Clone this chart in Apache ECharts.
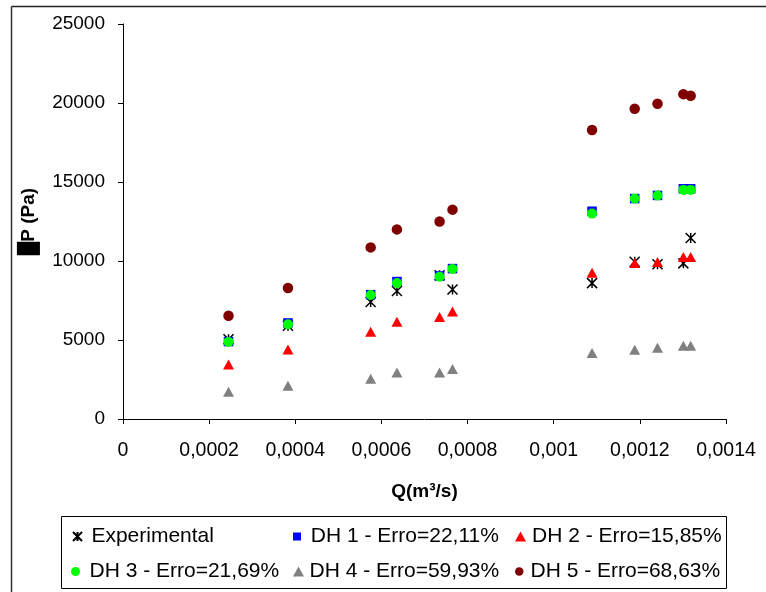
<!DOCTYPE html>
<html>
<head>
<meta charset="utf-8">
<script src="https://cdn.jsdelivr.net/npm/echarts@6/dist/echarts.min.js"></script>
<style>
html,body{margin:0;padding:0;background:#fff;}
#chart{width:766px;height:592px;}
</style>
</head>
<body>
<div id="chart"></div>
<script>
// ---- data ----
var qValues = [0.000245, 0.000383, 0.000575, 0.000636, 0.000735, 0.000765, 0.001089, 0.001188, 0.001241, 0.001301, 0.001318];
var experimental = [5050, 5900, 7400, 8100, 9100, 8200, 8600, 9950, 9800, 9850, 11450];
var dh1 = [4900, 6080, 7870, 8700, 9050, 9520, 13150, 13950, 14150, 14570, 14570];
var dh2 = [3450, 4400, 5520, 6150, 6450, 6800, 9250, 9870, 9930, 10250, 10250];
var dh3 = [4880, 6000, 7850, 8600, 9000, 9500, 13000, 13950, 14150, 14500, 14500];
var dh4 = [1730, 2110, 2550, 2950, 2950, 3160, 4180, 4390, 4510, 4640, 4640];
var dh5 = [6540, 8290, 10860, 12000, 12500, 13250, 18290, 19640, 19950, 20560, 20460];
var seriesNames = ['Experimental', 'DH 1 - Erro=22,11%', 'DH 2 - Erro=15,85%', 'DH 3 - Erro=21,69%', 'DH 4 - Erro=59,93%', 'DH 5 - Erro=68,63%'];
var xAxisName = 'Q(m³/s)';
var yAxisName = '█P (Pa)';

function pairs(ys){ return ys.map(function(y,i){ return [qValues[i], y]; }); }

var FONT = '"Liberation Sans", Arial, sans-serif';
var asterisk = 'path://M0,0 L10,10 M10,0 L0,10 M5,0 L5,10';

var styles = [
  {symbol: asterisk, size: 10, itemStyle: {color: 'rgba(0,0,0,0)', borderColor: '#000', borderWidth: 1.5, opacity: 1}},
  {symbol: 'rect', size: 9.5, itemStyle: {color: '#0000FF', opacity: 1}},
  {symbol: 'triangle', size: [11, 10], itemStyle: {color: '#FF0000', opacity: 1}},
  {symbol: 'circle', size: 10, itemStyle: {color: '#00FF00', opacity: 1}},
  {symbol: 'triangle', size: [11, 10], itemStyle: {color: '#808080', opacity: 1}},
  {symbol: 'circle', size: 10.5, itemStyle: {color: '#800000', opacity: 1}}
];
var datasets = [experimental, dh1, dh2, dh3, dh4, dh5];

var series = datasets.map(function(d, i){
  return {
    name: seriesNames[i],
    type: 'scatter',
    data: pairs(d),
    symbol: styles[i].symbol,
    symbolSize: styles[i].size,
    itemStyle: styles[i].itemStyle,
    emphasis: {disabled: true},
    z: 2 + i
  };
});

// legend layout (icon box and text offset)
var legendPos = [
  {left: 72, top: 526, w: 9, h: 10, pad: 4.4},
  {left: 293, top: 526, w: 8, h: 8, pad: 4.8},
  {left: 515, top: 526, w: 11, h: 10, pad: 1},
  {left: 71, top: 561, w: 9, h: 9, pad: 4.5},
  {left: 293, top: 561, w: 11, h: 10, pad: 0.5},
  {left: 515, top: 561, w: 8.5, h: 8.5, pad: 2}
];
var legends = seriesNames.map(function(n, i){
  var p = legendPos[i];
  return {
    data: [n],
    left: p.left,
    top: p.top,
    padding: 0,
    itemWidth: p.w,
    itemHeight: p.h,
    itemGap: 0,
    selectedMode: false,
    textStyle: {fontFamily: FONT, fontSize: 21, color: '#000', padding: [0,0,0,p.pad]}
  };
});

var chart = echarts.init(document.getElementById('chart'), null, {renderer: 'canvas'});
chart.setOption({
  animation: false,
  backgroundColor: '#fff',
  grid: {left: 123, right: 40, top: 24, bottom: 173, containLabel: false},
  xAxis: {
    type: 'value', min: 0, max: 0.0014, interval: 0.0002,
    name: xAxisName, nameLocation: 'middle', nameGap: 63,
    nameTextStyle: {fontFamily: FONT, fontSize: 19, fontWeight: 'bold', color: '#000'},
    axisLine: {show: true, lineStyle: {color: '#000', width: 1}},
    axisTick: {show: true, inside: false, length: 5, lineStyle: {color: '#000'}},
    splitLine: {show: false},
    axisLabel: {
      fontFamily: FONT, fontSize: 19.5, color: '#000', margin: 22,
      formatter: function(v){ return String(Number(v.toPrecision(6))).replace('.', ','); }
    }
  },
  yAxis: {
    type: 'value', min: 0, max: 25000, interval: 5000,
    name: yAxisName, nameLocation: 'middle', nameGap: 85, nameRotate: 90,
    nameTextStyle: {fontFamily: FONT, fontSize: 19, fontWeight: 'bold', color: '#000'},
    axisLine: {show: true, lineStyle: {color: '#000', width: 1}},
    axisTick: {show: true, inside: false, length: 5, lineStyle: {color: '#000'}},
    splitLine: {show: false},
    axisLabel: {
      fontFamily: FONT, fontSize: 19, color: '#000', margin: 18,
      formatter: function(v){ return String(v); }
    }
  },
  legend: legends,
  graphic: [
    {type: 'line', shape: {x1: 11.5, y1: 6.5, x2: 766, y2: 6.5}, style: {stroke: '#222', lineWidth: 1.5}, silent: true},
    {type: 'line', shape: {x1: 11.5, y1: 6.5, x2: 11.5, y2: 592}, style: {stroke: '#333', lineWidth: 1.5}, silent: true},
    {type: 'rect', shape: {x: 61.5, y: 516.5, width: 665, height: 72}, style: {fill: 'none', stroke: '#000', lineWidth: 1}, silent: true, z: -1}
  ],
  series: series
});
</script>
</body>
</html>
